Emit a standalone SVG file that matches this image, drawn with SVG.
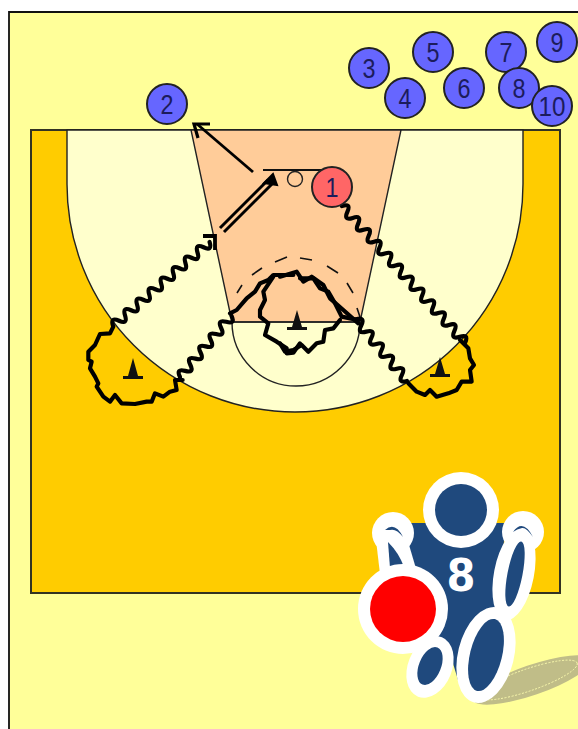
<svg xmlns="http://www.w3.org/2000/svg" width="578" height="729" viewBox="0 0 578 729">
<style>
.pl{fill:#6666ff;stroke:#222;stroke-width:2}
.n{font-family:"Liberation Sans",Arial,sans-serif;font-size:28px;fill:#1c1c5c;text-anchor:middle}
.ln{stroke:#222;stroke-width:1.4;fill:none}
.w{fill:none;stroke:#000;stroke-width:4.2;stroke-linejoin:miter;stroke-linecap:round}
.w9{fill:none;stroke:#000;stroke-width:12.5;stroke-linejoin:round;stroke-linecap:round}
.cone{fill:#111}
.b{fill:#1f497d}
.wh{fill:#fff}
</style>
<rect width="578" height="729" fill="#fff"/>
<rect x="9" y="12" width="569" height="717" fill="#ffff99"/>
<path d="M9 729V12H578" fill="none" stroke="#111" stroke-width="1.8"/>
<g id="court">
<rect x="31" y="130" width="529" height="463" fill="#ffcc00" stroke="#332" stroke-width="2"/>
<path d="M67 130V184A228 228 0 0 0 523 184V130Z" fill="#ffffcc" stroke="#222" stroke-width="1.4"/>
<path d="M191 130H401L360 322H232Z" fill="#ffcc99" stroke="#222" stroke-width="1.4"/>
<path d="M232 322A64 64 0 0 0 360 322" class="ln"/>
<path d="M232 322H360" class="ln"/>
<path d="M237 293L242 285M252 275L262 268M275 262L287 257M300 258L312 260M327 266L338 273M347 283L353 293M357 308L360 317" fill="none" stroke="#111" stroke-width="1.6"/>
<path d="M263 170H323" stroke="#111" stroke-width="2" fill="none"/>
<circle cx="295" cy="179" r="7.5" fill="none" stroke="#222" stroke-width="1.4"/>
</g>
<g id="cones">
<path class="cone" d="M133 358L138 376H143V379H123V376H128Z"/>
<path class="cone" d="M297 310L302 327H307V330H287V327H292Z"/>
<path class="cone" d="M440 357L445 374H450V377H430V374H435Z"/>
</g>
<g id="connectors">
<path d="M253 172L197 124" stroke="#000" stroke-width="2.8" fill="none"/>
<path d="M210 124H194L198 138" stroke="#000" stroke-width="3.2" fill="none"/>
<path d="M220 228L268 180M224 232L272 184" stroke="#000" stroke-width="3" fill="none"/>
<path d="M273 174L264 183L277 185Z" fill="#000" stroke="#000" stroke-width="2"/>
<path class="w" transform="translate(113 326) rotate(-41)" d="M0 0q4 -9 8 0t8 0t8 0t8 0t8 0t8 0t8 0t8 0t8 0t8 0t8 0t8 0t8 0t8 0t8 0t8 0"/>
<path d="M203 236H215V250" stroke="#000" stroke-width="3.8" fill="none"/>
<path class="w" transform="translate(180 377) rotate(-50)" d="M0 0q4 -9 8 0t8 0t8 0t8 0t8 0t8 0t8 0t8 0t8 0t8 0"/>
<path class="w" transform="translate(342 206) rotate(48)" d="M0 0q4 -9 8 0t8 0t8 0t8 0t8 0t8 0t8 0t8 0t8 0t8 0t8 0t8 0t8 0t8 0t8 0t8 0t8 0t8 0t8 0t8 0t8 0t8 0t8 0"/>
<path class="w" transform="translate(407 381) rotate(-129.5)" d="M0 0q4 -9 8 0t8 0t8 0t8 0t8 0t8 0t8 0t8 0t8 0t8 0"/>
<g transform="translate(60 220) scale(.33333)">
<path class="w9" d="M160 320L150 340L120 342L105 375L85 395L85 420L95 425L90 445L105 470L115 490L110 500L130 530L150 545L165 525L185 550L225 552L260 545L275 545L285 520L310 530L330 515L350 510L345 480L368 480"/>
<path class="w9" d="M510 280L530 270L560 235L585 215L600 190L625 180L640 165L700 165"/>
<path class="w9" d="M640 170L610 215L615 240L600 270L600 290L625 310L615 345L650 365L680 385L680 400L700 398L720 370"/>
</g>
<g transform="translate(280 220) scale(.33333)">
<path class="w9" d="M0 170L50 155L70 185L95 170L130 195L150 235L190 270L235 310"/>
<path class="w9" d="M60 175L100 175L120 205L145 215L165 250L185 290L210 295L235 300"/>
<path class="w9" d="M0 370L15 395L40 390L65 375L85 395L110 370L130 365L135 330L160 325L180 300"/>
<path class="w9" d="M540 360L565 385L570 415L582 435L570 450L575 485L545 485L530 510L505 520L470 530L450 510L435 525L410 515L385 490"/>
</g>
</g>
<g id="p2"><circle class="pl" cx="167" cy="104" r="20"/><text class="n" x="167" y="114" textLength="13" lengthAdjust="spacingAndGlyphs">2</text></g>
<g id="p1"><circle cx="332" cy="187" r="20" fill="#ff6666" stroke="#222" stroke-width="2"/><text class="n" x="332" y="197" textLength="13" lengthAdjust="spacingAndGlyphs">1</text></g>
<g id="p3"><circle class="pl" cx="369" cy="68" r="20"/><text class="n" x="369" y="78" textLength="13" lengthAdjust="spacingAndGlyphs">3</text></g>
<g id="p4"><circle class="pl" cx="405" cy="98" r="20"/><text class="n" x="405" y="108" textLength="13" lengthAdjust="spacingAndGlyphs">4</text></g>
<g id="p5"><circle class="pl" cx="433" cy="52" r="20"/><text class="n" x="433" y="62" textLength="13" lengthAdjust="spacingAndGlyphs">5</text></g>
<g id="p6"><circle class="pl" cx="464" cy="88" r="20"/><text class="n" x="464" y="98" textLength="13" lengthAdjust="spacingAndGlyphs">6</text></g>
<g id="p7"><circle class="pl" cx="506" cy="52" r="20"/><text class="n" x="506" y="62" textLength="13" lengthAdjust="spacingAndGlyphs">7</text></g>
<g id="p9"><circle class="pl" cx="557" cy="42" r="20"/><text class="n" x="557" y="52" textLength="13" lengthAdjust="spacingAndGlyphs">9</text></g>
<g id="p8"><circle class="pl" cx="519" cy="88" r="20"/><text class="n" x="519" y="98" textLength="13" lengthAdjust="spacingAndGlyphs">8</text></g>
<g id="p10"><circle class="pl" cx="552" cy="106" r="20"/><text class="n" x="552" y="116" textLength="27" lengthAdjust="spacingAndGlyphs">10</text></g>
<g id="logo">
<ellipse cx="532" cy="680" rx="62" ry="15" transform="rotate(-19 532 680)" fill="#c0bd88"/>
<ellipse cx="528" cy="680" rx="52" ry="11" transform="rotate(-19 528 680)" fill="none" stroke="#ffffb0" stroke-width=".8" stroke-dasharray="2 1.5"/>
<path class="b" d="M405 523H505L500 610L470 680H458L452 660L425 640L395 560Z"/>
<circle class="wh" cx="393" cy="533" r="21"/>
<circle class="wh" cx="523" cy="532" r="21"/>
<path class="wh" d="M376 540L407 538L417 572L380 574Z"/>
<ellipse class="wh" cx="514" cy="574" rx="20" ry="47" transform="rotate(11 514 574)"/>
<path class="b" d="M385 530Q395 521 403 537Q396 528 390 530Z"/>
<path class="b" d="M513 532Q523 518 533 537Q526 527 522 528Q517 529 513 532Z"/>
<path class="b" d="M388 542Q399 553 404 567L390 568Z"/>
<ellipse class="b" cx="515" cy="574" rx="7.5" ry="33" transform="rotate(11 515 574)"/>
<circle class="wh" cx="461" cy="510" r="38"/>
<circle class="b" cx="461" cy="510" r="26"/>
<text x="461" y="591" font-family="'DejaVu Sans',sans-serif" font-weight="700" font-size="44" fill="#fff" text-anchor="middle" textLength="29" lengthAdjust="spacingAndGlyphs">8</text>
<ellipse class="wh" cx="430" cy="667" rx="22" ry="32" transform="rotate(22 430 667)"/>
<ellipse class="b" cx="430" cy="666" rx="11" ry="20" transform="rotate(22 430 666)"/>
<ellipse class="wh" cx="486" cy="655" rx="28" ry="49" transform="rotate(14 486 655)"/>
<ellipse class="b" cx="486" cy="655" rx="16" ry="37" transform="rotate(14 486 655)"/>
<circle class="wh" cx="403" cy="609" r="45"/>
<circle cx="403" cy="609" r="33" fill="#f00"/>
</g>
</svg>
